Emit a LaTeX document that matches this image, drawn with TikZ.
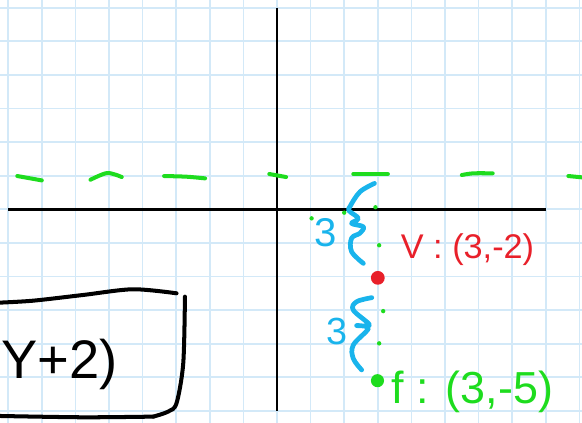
\documentclass[tikz,border=0pt]{standalone}
\usepackage{fontspec}
\setmainfont{Liberation Sans}
\usepackage{tikz}
\usetikzlibrary{positioning}
\definecolor{gridBlue}{HTML}{D3E9F8}
\definecolor{penGreen}{HTML}{1EDC1E}
\definecolor{penRed}  {HTML}{E8202A}
\definecolor{penBlue} {HTML}{19B4EC}

\tikzset{
  pen/.style={line width=3.4pt, line cap=round, line join=round},
  speck/.style={circle, fill=penGreen, minimum size=1.3mm, inner sep=0pt},
  bigdot/.style={circle, minimum size=4.1mm, inner sep=0pt},
  hand/.style={inner sep=0pt},
}

\begin{document}
\begin{tikzpicture}
  \useasboundingbox (-8.244,-6.360) rectangle (9.077,6.229);
  % graph paper
  \foreach \x in {-8,...,9}{
    \draw[gridBlue, line width=1.5pt] (\x,-6.36) -- (\x,6.229);
  }
  \foreach \y in {-6,...,6}{
    \draw[gridBlue, line width=1.5pt] (-8.244,\y) -- (9.077,\y);
  }
  % axes
  \draw[line width=2.4pt] (-8,0) -- (8,0);
  \draw[line width=2.4pt] (0,6) -- (0,-6);

  % directrix y = 1, hand dashed
  \draw[pen, penGreen] (-7.73,0.99) -- (-7.00,0.86);
  \draw[pen, penGreen] plot[smooth] coordinates {(-5.55,0.88) (-5.05,1.08) (-4.62,0.96)};
  \draw[pen, penGreen] plot[smooth] coordinates {(-3.36,0.99) (-2.69,0.97) (-2.14,0.92)};
  \draw[pen, penGreen] (-0.23,1.05) -- (0.27,0.96);
  \draw[pen, penGreen] (2.27,1.05) -- (3.30,1.05);
  \draw[pen, penGreen] plot[smooth] coordinates {(5.50,1.02) (5.84,1.07) (6.42,1.07)};
  \draw[pen, penGreen] (8.67,0.99) -- (9.08,0.95);

  % counting specks
  \foreach \p/\name in {(1.03,-0.27)/s1, (2.00,-0.10)/s2, (2.93,0.06)/s3,
                        (3.04,-1.07)/s4, (3.16,-3.03)/s5, (3.04,-3.99)/s6}{
    \node[speck] (\name) at \p {};
  }

  % braces
  \draw[pen, penBlue, line width=4pt] plot[smooth, tension=0.6] coordinates
    {(2.90,0.77) (2.47,0.52) (2.17,0.08) (2.15,-0.05) (2.42,-0.27) (2.22,-0.42)
     (2.57,-0.52) (2.47,-0.71) (2.22,-0.86) (2.22,-1.26) (2.57,-1.61)};
  \draw[pen, penBlue, line width=4pt] plot[smooth, tension=0.6] coordinates
    {(2.82,-2.63) (2.37,-2.75) (2.27,-3.00) (2.75,-3.44) (2.37,-3.46)
     (2.72,-3.54) (2.27,-4.04) (2.27,-4.44) (2.52,-4.78)};
  \node[hand, text=penBlue, font=\fontsize{34}{36}\selectfont] (gapTop) at (1.46,-0.71) {3};
  \node[hand, text=penBlue, font=\fontsize{32}{34}\selectfont] (gapBot) at (1.79,-3.65) {3};

  % vertex and focus
  \node[bigdot, fill=penRed] (vertexDot) at (3.00,-2.04) {};
  \node[bigdot, fill=penGreen, minimum size=3.9mm] (focusDot) at (2.99,-5.10) {};
  \node[hand, text=penRed, font=\fontsize{29}{31}\selectfont]
    (vertexLabel) at (5.67,-1.20) {V : (3,-2)};
  \node[hand, text=penGreen, font=\fontsize{38}{40}\selectfont]
    (focusLabel) at (5.82,-5.43) {f : (3,-5)};

  % boxed equation, cut at the left edge
  \draw[pen] plot[smooth] coordinates
    {(-8.30,-2.78) (-7.26,-2.72) (-5.77,-2.55) (-4.29,-2.38) (-2.99,-2.50)};
  \draw[pen] plot[smooth] coordinates
    {(-2.74,-2.60) (-2.79,-4.58) (-2.99,-5.77) (-3.24,-6.02) (-3.68,-6.17)};
  \draw[pen] plot[smooth] coordinates
    {(-3.68,-6.17) (-5.77,-6.19) (-8.30,-6.15)};
  \node[hand, anchor=base west, font=\fontsize{46}{48}\selectfont]
    (eqText) at (-8.20,-5.05) {Y+2)};
\end{tikzpicture}
\end{document}
